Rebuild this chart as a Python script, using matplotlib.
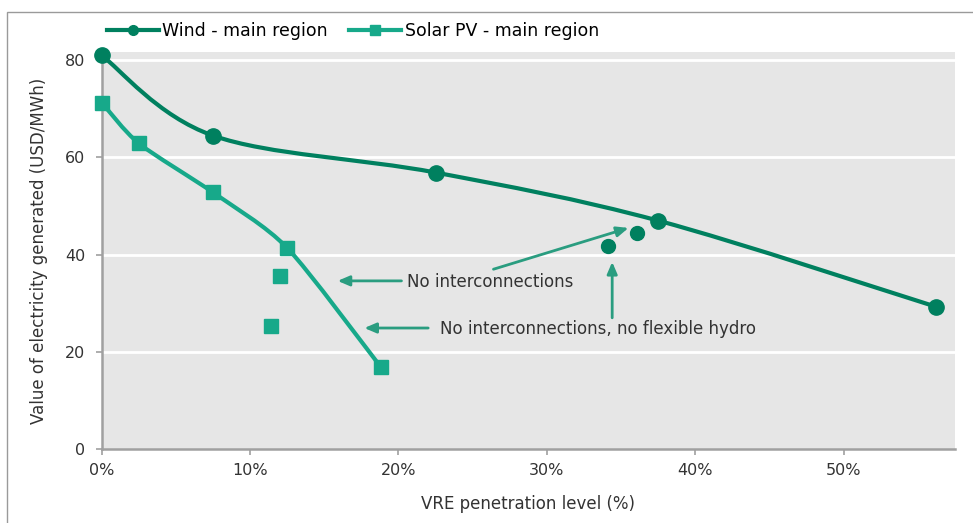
import matplotlib

matplotlib.use("Agg")
import matplotlib.pyplot as plt
from matplotlib.lines import Line2D
from matplotlib.patches import PathPatch, Rectangle
from matplotlib.path import Path


# data
WIND_X = [0.0, 7.5, 22.5, 37.5, 56.2]
WIND_Y = [81.0, 64.5, 56.9, 47.0, 29.3]
WIND_EXTRA_X = [34.1, 36.1]
WIND_EXTRA_Y = [41.7, 44.5]

SOLAR_X = [0.0, 2.5, 7.5, 12.5, 18.8]
SOLAR_Y = [71.3, 62.9, 52.8, 41.4, 16.9]
SOLAR_EXTRA_X = [12.0, 11.4]
SOLAR_EXTRA_Y = [35.6, 25.3]

X_TICKS = [0, 10, 20, 30, 40, 50]
X_TICK_LABELS = ["0%", "10%", "20%", "30%", "40%", "50%"]
Y_TICKS = [0, 20, 40, 60, 80]

WIND_COLOR = "#00805f"
SOLAR_COLOR = "#17a98a"
ARROW_COLOR = "#2a9d80"
TEXT_COLOR = "#333333"
FONT = ["Liberation Sans Narrow", "DejaVu Sans"]

plt.rcParams["font.family"] = FONT


def smooth_path(xs, ys, k=7.0):
    # smoothed line like a spreadsheet chart, as cubic Bezier segments
    pts = list(zip(xs, ys))
    verts = [pts[0]]
    codes = [Path.MOVETO]
    n = len(pts)
    for i in range(n - 1):
        p0 = pts[i - 1] if i > 0 else pts[i]
        p1 = pts[i]
        p2 = pts[i + 1]
        p3 = pts[i + 2] if i + 2 < n else pts[i + 1]
        c1 = (p1[0] + (p2[0] - p0[0]) / k, p1[1] + (p2[1] - p0[1]) / k)
        c2 = (p2[0] - (p3[0] - p1[0]) / k, p2[1] - (p3[1] - p1[1]) / k)
        verts += [c1, c2, p2]
        codes += [Path.CURVE4] * 3
    return Path(verts, codes)


fig = plt.figure(figsize=(9.73, 5.23), dpi=100)
fig.patches.append(Rectangle((7 / 973, -0.1), 1.2, 1.1 - 12 / 523, transform=fig.transFigure,
                             fill=False, edgecolor="#9a9a9a", linewidth=1.0))

ax = fig.add_axes([0.1045, 0.1415, 0.877, 0.759])
ax.set_facecolor("#e6e6e6")
ax.set_xlim(0, 57.5)
ax.set_ylim(0, 81.7)

for y in Y_TICKS[1:]:
    ax.axhline(y, color="white", linewidth=2.0, zorder=1)

ax.add_patch(PathPatch(smooth_path(WIND_X, WIND_Y, 6.0), fill=False, edgecolor=WIND_COLOR,
                       linewidth=3.0, zorder=3, capstyle="round"))
ax.add_patch(PathPatch(smooth_path(SOLAR_X, SOLAR_Y, 8.0), fill=False, edgecolor=SOLAR_COLOR,
                       linewidth=3.0, zorder=3, capstyle="round"))

ax.plot(WIND_X, WIND_Y, linestyle="none", marker="o", markersize=11, color=WIND_COLOR, zorder=4,
        clip_on=False)
ax.plot(WIND_EXTRA_X, WIND_EXTRA_Y, linestyle="none", marker="o", markersize=10, color=WIND_COLOR,
        zorder=4)
ax.plot(SOLAR_X, SOLAR_Y, linestyle="none", marker="s", markersize=10, color=SOLAR_COLOR, zorder=4,
        clip_on=False)
ax.plot(SOLAR_EXTRA_X, SOLAR_EXTRA_Y, linestyle="none", marker="s", markersize=10, color=SOLAR_COLOR,
        zorder=4)

# annotations
arrow = dict(arrowstyle="-|>,head_length=0.7,head_width=0.3", color=ARROW_COLOR, linewidth=2.0,
             shrinkA=0, shrinkB=0)
ax.text(20.6, 34.3, "No interconnections", fontsize=12, color=TEXT_COLOR, va="center", ha="left")
ax.annotate("", xy=(15.9, 34.6), xytext=(20.2, 34.6), arrowprops=arrow)
ax.annotate("", xy=(35.5, 45.5), xytext=(26.4, 37.0), arrowprops=arrow)
ax.text(22.8, 24.6, "No interconnections, no flexible hydro", fontsize=12, color=TEXT_COLOR,
        va="center", ha="left")
ax.annotate("", xy=(17.7, 24.9), xytext=(22.0, 24.9), arrowprops=arrow)
ax.annotate("", xy=(34.4, 38.5), xytext=(34.4, 27.0), arrowprops=arrow)

for side in ["top", "right"]:
    ax.spines[side].set_visible(False)
for side in ["left", "bottom"]:
    ax.spines[side].set_color("#a0a0a0")
    ax.spines[side].set_linewidth(1.8)

ax.set_xticks(X_TICKS)
ax.set_xticklabels(X_TICK_LABELS)
ax.set_yticks(Y_TICKS)
ax.tick_params(axis="both", colors="#a0a0a0", labelcolor=TEXT_COLOR, labelsize=11.5, length=4, width=1.2)
ax.tick_params(axis="x", pad=6)
ax.tick_params(axis="y", pad=8)

ax.set_xlabel("VRE penetration level (%)", fontsize=12, color=TEXT_COLOR, labelpad=12)
ax.set_ylabel("Value of electricity generated (USD/MWh)", fontsize=12, color=TEXT_COLOR, labelpad=12)

handles = [
    Line2D([], [], color=WIND_COLOR, linewidth=3.0, marker="o", markersize=7),
    Line2D([], [], color=SOLAR_COLOR, linewidth=3.0, marker="s", markersize=7),
]
fig.legend(handles, ["Wind - main region", "Solar PV - main region"], loc="center left",
           bbox_to_anchor=(100 / 973, 1 - 31 / 523), ncol=2, frameon=False, fontsize=12.5,
           handlelength=3.0, handletextpad=0.2, columnspacing=1.2, borderaxespad=0)

fig.savefig("out.png", dpi=100)
